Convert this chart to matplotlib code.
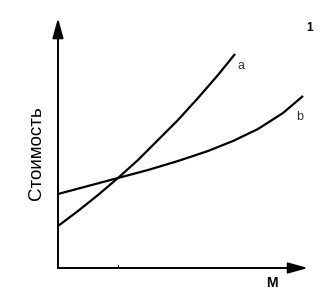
import matplotlib
matplotlib.use("Agg")
import matplotlib.pyplot as plt

# Data (arbitrary units)
a_x = [0, 2.0, 4.0, 6.0, 8.0, 10.0, 12.0, 14.0, 16.0, 17.7]
a_y = [4.2, 5.7, 7.3, 9.0, 10.8, 12.8, 14.8, 17.0, 19.3, 21.4]
b_x = [0, 3.0, 6.0, 9.0, 12.0, 15.0, 17.5, 20.0, 22.5, 24.5]
b_y = [7.4, 8.2, 9.0, 9.8, 10.7, 11.7, 12.7, 13.9, 15.5, 17.2]
series_labels = ["a", "b"]
x_label = "М"
y_label = "Стоимость"
corner_mark = "1"
tick_x = [6.0]

W, H = 335, 297
fig = plt.figure(figsize=(W / 100, H / 100), dpi=100)
fig.patch.set_facecolor("white")
x0, x1, y0, y1 = 58, 308, 268, 18
ax = fig.add_axes([x0 / W, (H - y0) / H, (x1 - x0) / W, (y0 - y1) / H])
xmax, ymax = (x1 - x0) / 10, (y0 - y1) / 10
ax.set_xlim(0, xmax)
ax.set_ylim(0, ymax)
ax.axis("off")

arrow = dict(arrowstyle="-|>,head_length=1.2,head_width=0.33", color="black",
             lw=1.4, shrinkA=0, shrinkB=0)
ax.annotate("", xy=(xmax, 0), xytext=(0, 0), arrowprops=arrow, annotation_clip=False)
ax.annotate("", xy=(0, ymax), xytext=(0, 0), arrowprops=arrow, annotation_clip=False)

for t in tick_x:
    ax.plot([t, t], [0, 0.3], color="black", lw=0.6, clip_on=False)

ax.plot(a_x, a_y, color="black", lw=1.6, solid_capstyle="butt", clip_on=False)
ax.plot(b_x, b_y, color="black", lw=1.6, solid_capstyle="butt", clip_on=False)

fs_lab = dict(family="Liberation Sans")
ax.text(a_x[-1] + 0.3, a_y[-1] - 1.2, series_labels[0], fontsize=9, ha="left",
        va="center", color="#333333", **fs_lab)
ax.text(b_x[-1] - 0.3, b_y[-1] - 2.1, series_labels[1], fontsize=9, ha="center",
        va="center", color="#333333", **fs_lab)

fig.text(37 / W, 1 - 153 / H, y_label, rotation=90, ha="center", va="center",
         fontsize=13.5, color="black", **fs_lab)
fig.text(272 / W, 1 - 283 / H, x_label, ha="center", va="center", fontsize=10,
         fontweight="bold", color="black", **fs_lab)
fig.text(310 / W, 1 - 28 / H, corner_mark, ha="center", va="center", fontsize=8.5,
         fontweight="bold", color="black", **fs_lab)

fig.savefig("out.png", dpi=100, facecolor="white")
